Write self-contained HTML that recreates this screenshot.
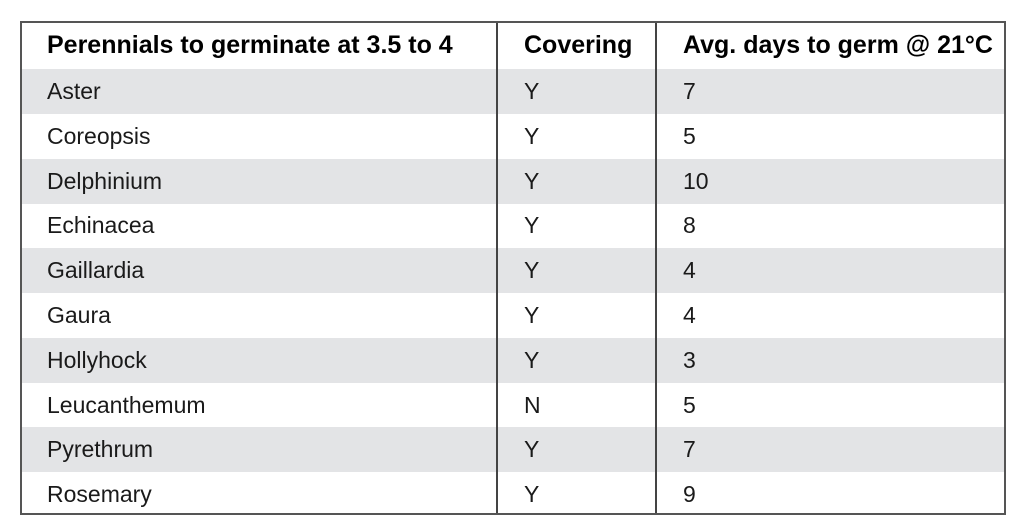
<!DOCTYPE html>
<html><head><meta charset="utf-8"><style>
body{margin:0;width:1024px;height:528px;background:#fff;position:relative;overflow:hidden;font-family:"Liberation Sans Narrow","Liberation Sans",sans-serif;color:#1a1a1a}
#tbl{position:absolute;left:20px;top:21px;width:986px;height:494px;border:2px solid #555;box-sizing:border-box}
.row{position:absolute;left:0;width:100%;height:45px}
.g{background:#e3e4e6}
.c{position:absolute;font-size:23px;line-height:45px;white-space:nowrap}
.h{font-weight:bold;font-size:25px;color:#000}
.vl{position:absolute;top:0;bottom:0;width:2px;background:#444}
</style></head><body>
<div id="tbl">
 <div class="row" style="top:0;height:46px;border-bottom:2px solid #555">
  <span class="c h" style="left:25px">Perennials to germinate at 3.5 to 4</span>
  <span class="c h" style="left:502px">Covering</span>
  <span class="c h" style="left:661px">Avg. days to germ @ 21°C</span>
 </div>
 <div id="body"></div>
 <div class="vl" style="left:474px"></div>
 <div class="vl" style="left:633px"></div>
</div>
<script>
const plants=["Aster","Coreopsis","Delphinium","Echinacea","Gaillardia","Gaura","Hollyhock","Leucanthemum","Pyrethrum","Rosemary"];
const covering=["Y","Y","Y","Y","Y","Y","Y","N","Y","Y"];
const days=[7,5,10,8,4,4,3,5,7,9];
const body=document.getElementById('body');
plants.forEach((p,i)=>{
 const r=document.createElement('div');
 
 
 r.className='row'+(i%2===0?' g':'');
 r.style.top=(46+i*44.8)+'px';
 const vals=[p,covering[i],String(days[i])];
 const xs=[25,502,661];
 vals.forEach((v,j)=>{
  const s=document.createElement('span');
  
  
  s.className='c';s.style.left=xs[j]+'px';s.textContent=v;
  r.appendChild(s);
 });
 body.appendChild(r);
});
</script>
</body></html>
